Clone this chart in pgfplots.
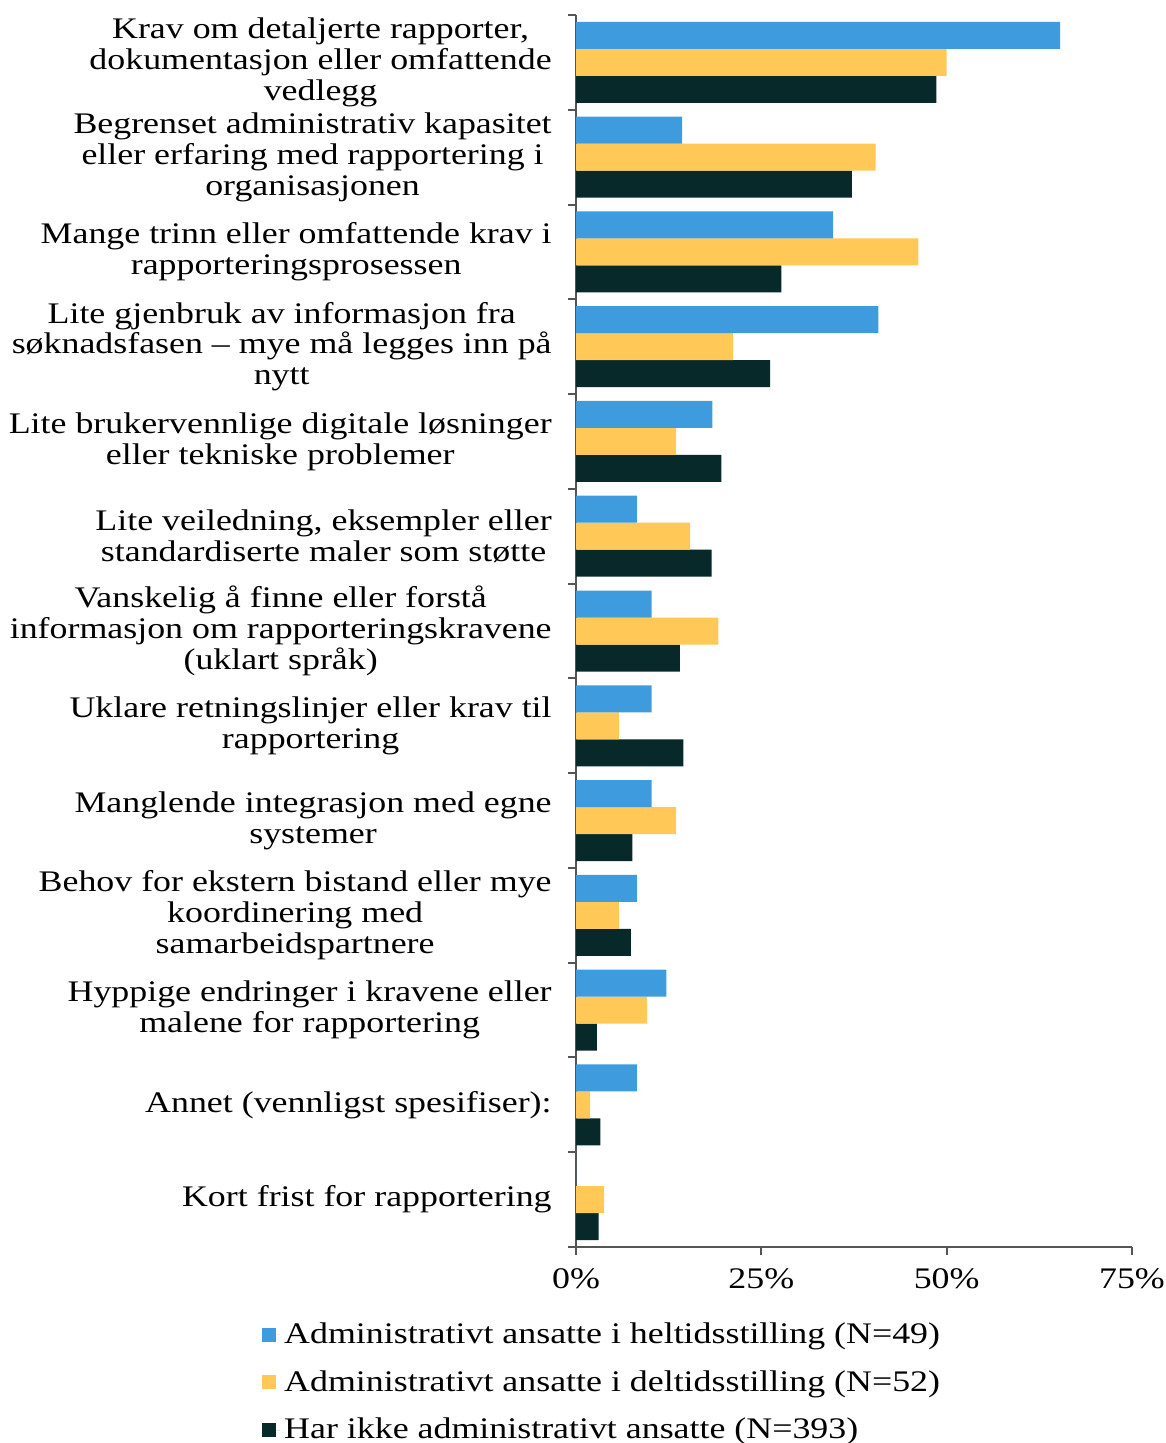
\documentclass[border=0pt]{standalone}
\usepackage{fontspec}
\setmainfont{Liberation Serif}[FakeStretch=1.2]
\usepackage{pgfplots}
\usepackage{pgfplotstable}
\pgfplotsset{compat=1.18}
\definecolor{cblue}{HTML}{3D9BDE}
\definecolor{cyellow}{HTML}{FFC857}
\definecolor{cdark}{HTML}{07292A}
\definecolor{caxis}{HTML}{555555}
\pgfplotstableread{
y blue yellow dark
12 65.3 50.0 48.6
11 14.3 40.4 37.2
10 34.7 46.2 27.7
9 40.8 21.2 26.2
8 18.4 13.5 19.6
7 8.2 15.4 18.3
6 10.2 19.2 14.0
5 10.2 5.8 14.5
4 10.2 13.5 7.6
3 8.2 5.8 7.4
2 12.2 9.6 2.8
1 8.2 1.9 3.3
0 0 3.8 3.05
}\datatable
\newcommand{\lbl}{\fontsize{15}{15.5}\selectfont}
\begin{document}
\begin{tikzpicture}
\useasboundingbox (0,0) rectangle (583bp,-721.5bp);
\begin{axis}[
  at={(288bp,-7.5bp)}, anchor=north west,
  scale only axis, width=278bp, height=616bp,
  xbar=0pt, bar width=13.5bp,
  xmin=0, xmax=75, ymin=-0.5, ymax=12.5,
  axis x line*=bottom, axis y line*=left,
  axis line style={caxis, line width=1bp},
  every tick/.style={caxis, line width=1bp},
  tick align=outside, major tick length=4bp, minor tick length=4bp,
  xtick={0,25,50,75},
  xticklabel={\pgfmathprintnumber{\tick}\%},
  /pgf/number format/assume math mode=true,
  xticklabel style={font=\lbl, yshift=-3.5bp},
  ytick={0,...,12},
  major y tick style={draw=none},
  minor ytick={-0.5,0.5,...,12.5},
  yticklabels={
    {Kort frist for rapportering},
    {Annet (vennligst spesifiser):},
    {Hyppige endringer i kravene eller\\malene for rapportering},
    {Behov for ekstern bistand eller mye\\koordinering med\\samarbeidspartnere},
    {Manglende integrasjon med egne\\systemer},
    {Uklare retningslinjer eller krav til\\rapportering},
    {Vanskelig å finne eller forstå\\informasjon om rapporteringskravene\\(uklart språk)},
    {Lite veiledning, eksempler eller\\standardiserte maler som støtte},
    {Lite brukervennlige digitale løsninger\\eller tekniske problemer},
    {Lite gjenbruk av informasjon fra\\søknadsfasen – mye må legges inn på\\nytt},
    {Mange trinn eller omfattende krav i\\rapporteringsprosessen},
    {Begrenset administrativ kapasitet\\eller erfaring med rapportering i\\organisasjonen},
    {Krav om detaljerte rapporter,\\dokumentasjon eller omfattende\\vedlegg}
  },
  yticklabel style={font=\lbl, align=center, inner sep=0pt, xshift=-8bp},
  reverse legend,
  legend style={at={(-0.565,-0.058)}, anchor=north west, draw=none, fill=none,
    font=\lbl, row sep=8bp, inner sep=0pt},
  legend cell align=left,
  legend image code/.code={\path (0bp,0bp) -- (9bp,0bp);\fill[#1,draw=none] (0bp,-3.5bp) rectangle (7bp,3.5bp);},
]
\addplot[fill=cdark, draw=none] table[x=dark, y=y] {\datatable};
\addplot[fill=cyellow, draw=none] table[x=yellow, y=y] {\datatable};
\addplot[fill=cblue, draw=none] table[x=blue, y=y] {\datatable};
\legend{Har ikke administrativt ansatte (N=393), Administrativt ansatte i deltidsstilling (N=52), Administrativt ansatte i heltidsstilling (N=49)}
\end{axis}
\end{tikzpicture}
\end{document}
